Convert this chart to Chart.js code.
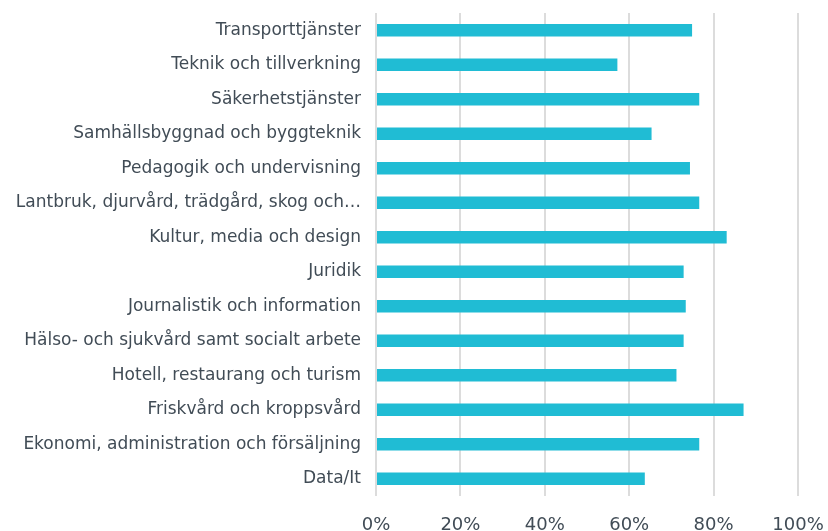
<!DOCTYPE html>
<html>
<head>
<meta charset="utf-8">
<script src="https://cdn.jsdelivr.net/npm/chart.js@4"></script>
<style>
  html, body { margin: 0; padding: 0; background: #fff; }
  #wrap { width: 828px; height: 531px; }
</style>
</head>
<body>
<div id="wrap"><canvas id="chart"></canvas></div>
<script>
const categories = [
  "Transporttjänster",
  "Teknik och tillverkning",
  "Säkerhetstjänster",
  "Samhällsbyggnad och byggteknik",
  "Pedagogik och undervisning",
  "Lantbruk, djurvård, trädgård, skog och…",
  "Kultur, media och design",
  "Juridik",
  "Journalistik och information",
  "Hälso- och sjukvård samt socialt arbete",
  "Hotell, restaurang och turism",
  "Friskvård och kroppsvård",
  "Ekonomi, administration och försäljning",
  "Data/It"
];
const shares = [74.9, 57.2, 76.6, 65.3, 74.4, 76.6, 83.1, 72.9, 73.4, 72.9, 71.2, 87.1, 76.6, 63.7];
const xTicks = [0, 20, 40, 60, 80, 100];

const textColor = "#414c56";
const font = "'DejaVu Sans', Verdana, sans-serif";

new Chart(document.getElementById("chart"), {
  type: "bar",
  data: {
    labels: categories,
    datasets: [{
      data: shares,
      backgroundColor: "#20bcd4",
      barPercentage: 0.36,
      categoryPercentage: 1
    }]
  },
  options: {
    indexAxis: "y",
    responsive: true,
    maintainAspectRatio: false,
    animation: false,
    layout: { padding: { left: 8, right: 30, top: 13, bottom: 0 } },
    plugins: { legend: { display: false }, tooltip: { enabled: false } },
    scales: {
      x: {
        min: 0,
        max: 100,
        afterBuildTicks: (scale) => {
          scale.ticks = xTicks.map((v) => ({ value: v }));
        },
        afterFit: (scale) => {
          scale.height = 35;
          scale.paddingLeft = 0;
          scale.paddingRight = 0;
        },
        grid: { color: "#dcdcdc", lineWidth: 2, drawTicks: false },
        border: { display: false },
        ticks: {
          padding: 19,
          color: textColor,
          font: { family: font, size: 18 },
          callback: (v) => v + "%"
        }
      },
      y: {
        afterFit: (scale) => {
          scale.width = 368;
          scale.paddingTop = 0;
          scale.paddingBottom = 0;
        },
        grid: { display: false, drawTicks: false },
        border: { display: false },
        ticks: {
          padding: 15,
          autoSkip: false,
          color: textColor,
          font: { family: font, size: 17 }
        }
      }
    }
  }
});
</script>
</body>
</html>
